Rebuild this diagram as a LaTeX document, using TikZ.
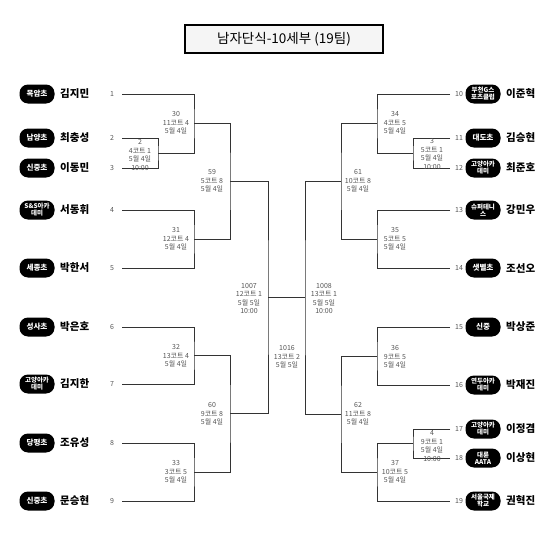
\documentclass[tikz,border=0pt]{standalone}
\usepackage{fontspec}
\setmainfont{Noto Sans CJK KR}
\newfontfamily\kr{Noto Sans CJK KR}
\definecolor{lbl}{HTML}{555555}
\definecolor{ln}{HTML}{333333}
\tikzset{
  x=1pt, y=-1pt,
  bline/.style={draw=ln, line width=0.9pt},
  badgeone/.style={fill=black, text=white, rounded corners=8.5pt, minimum width=35pt, minimum height=19pt, inner sep=0pt, align=center, font=\kr\bfseries\fontsize{7.6}{8}\selectfont},
  badgetwo/.style={badgeone, font=\kr\bfseries\fontsize{6.5}{7}\selectfont},
  pname/.style={anchor=west, inner sep=0pt, font=\kr\bfseries\fontsize{10.5}{12}\selectfont},
  pnum/.style={inner sep=0pt, text=lbl, font=\kr\fontsize{7}{8}\selectfont},
  mlabel/.style={inner sep=0pt, text=lbl, align=center, font=\kr\fontsize{7}{8.5}\selectfont},
  titlebox/.style={draw=black, line width=1.3pt, fill=gray!8, minimum width=198pt, minimum height=28pt, inner sep=0pt, font=\kr\fontsize{13.5}{15}\selectfont}
}
\begin{document}
\begin{tikzpicture}
\useasboundingbox (0,0) rectangle (550,538);
\fill[white] (0,0) rectangle (550,538);

\node[titlebox] (title) at (284,39) {남자단식-10세부 (19팀)};

% left players
\foreach \n/\y/\s/\b/\p in {1/94/badgeone/목암초/김지민, 2/138/badgeone/남양초/최충성, 3/168/badgeone/신중초/이동민, 4/210/badgetwo/{S\&S아카\\데미}/서동휘, 5/268/badgeone/세종초/박한서, 6/327/badgeone/성사초/박은호, 7/384/badgetwo/{고양아카\\데미}/김지한, 8/443/badgeone/당평초/조유성, 9/501/badgeone/신중초/문승현}{
  \node[\s] (b\n) at (37,\y) {\b};
  \node[pname] (n\n) at (60,\y) {\p};
  \node[pnum] (k\n) at (112,\y) {\n};
  \coordinate (p\n) at (122,\y);
}
% right players
\foreach \n/\y/\s/\b/\p in {10/94/badgetwo/{부천G스\\포츠클럽}/이준혁, 11/138/badgeone/대도초/김승현, 12/168/badgetwo/{고양아카\\데미}/최준호, 13/210/badgetwo/{슈퍼테니\\스}/강민우, 14/268/badgeone/샛별초/조선오, 15/327/badgeone/신중/박상준, 16/385/badgetwo/{연두아카\\데미}/박재진, 17/429/badgetwo/{고양아카\\데미}/이정겸, 18/458/badgetwo/{대륜\\AATA}/이상현, 19/501/badgetwo/{서울국제\\학교}/권혁진}{
  \node[\s] (b\n) at (483,\y) {\b};
  \node[pname] (n\n) at (506,\y) {\p};
  \node[pnum] (k\n) at (459,\y) {\n};
  \coordinate (p\n) at (450,\y);
}

% match coordinates left
\coordinate (m2) at (158,153);
\coordinate (m30) at (194,123.5);
\coordinate (m31) at (194,239);
\coordinate (m59) at (230,181.25);
\coordinate (m32) at (194,355.5);
\coordinate (m33) at (194,472);
\coordinate (m60) at (230,413.75);
\coordinate (m1007) at (268,297.5);
% right
\coordinate (m3) at (413,153);
\coordinate (m34) at (377,123.5);
\coordinate (m35) at (377,239);
\coordinate (m61) at (341,181.25);
\coordinate (m36) at (377,356);
\coordinate (m4) at (413,443.5);
\coordinate (m37) at (377,472.25);
\coordinate (m62) at (341,414.1);
\coordinate (m1008) at (305,297.5);

% brackets left
\draw[bline] (p2) -| (m2) |- (p3);
\draw[bline] (p1) -| (m30) |- (m2);
\draw[bline] (p4) -| (m31) |- (p5);
\draw[bline] (m30) -| (m59) |- (m31);
\draw[bline] (p6) -| (m32) |- (p7);
\draw[bline] (p8) -| (m33) |- (p9);
\draw[bline] (m32) -| (m60) |- (m33);
\draw[bline] (m59) -| (m1007) |- (m60);
% brackets right
\draw[bline] (p11) -| (m3) |- (p12);
\draw[bline] (p10) -| (m34) |- (m3);
\draw[bline] (p13) -| (m35) |- (p14);
\draw[bline] (m34) -| (m61) |- (m35);
\draw[bline] (p15) -| (m36) |- (p16);
\draw[bline] (p17) -| (m4) |- (p18);
\draw[bline] (m4) -| (m37) |- (p19);
\draw[bline] (m36) -| (m62) |- (m37);
\draw[bline] (m61) -| (m1008) |- (m62);
% final
\draw[bline] (m1007) -- (m1008);

% match labels
\node[mlabel] (l2) at (140,155) {2\\4코트 1\\5월 4일\\10:00};
\node[mlabel] (l30) at (176,123) {30\\11코트 4\\5월 4일};
\node[mlabel] (l31) at (176,239) {31\\12코트 4\\5월 4일};
\node[mlabel] (l59) at (212,181) {59\\5코트 8\\5월 4일};
\node[mlabel] (l32) at (176,356) {32\\13코트 4\\5월 4일};
\node[mlabel] (l33) at (176,472) {33\\3코트 5\\5월 4일};
\node[mlabel] (l60) at (212,414) {60\\9코트 8\\5월 4일};
\node[mlabel] (l1007) at (249,298.5) {1007\\12코트 1\\5월 5일\\10:00};
\node[mlabel] (l1016) at (287,357) {1016\\13코트 2\\5월 5일};
\node[mlabel] (l1008) at (324,298.5) {1008\\13코트 1\\5월 5일\\10:00};
\node[mlabel] (l34) at (395,123) {34\\4코트 5\\5월 4일};
\node[mlabel] (l3) at (432,154) {3\\5코트 1\\5월 4일\\10:00};
\node[mlabel] (l61) at (358,181) {61\\10코트 8\\5월 4일};
\node[mlabel] (l35) at (395,239) {35\\5코트 5\\5월 4일};
\node[mlabel] (l36) at (395,357) {36\\9코트 5\\5월 4일};
\node[mlabel] (l62) at (358,414) {62\\11코트 8\\5월 4일};
\node[mlabel] (l4) at (432,446) {4\\9코트 1\\5월 4일\\10:00};
\node[mlabel] (l37) at (395,472) {37\\10코트 5\\5월 4일};
\end{tikzpicture}
\end{document}
